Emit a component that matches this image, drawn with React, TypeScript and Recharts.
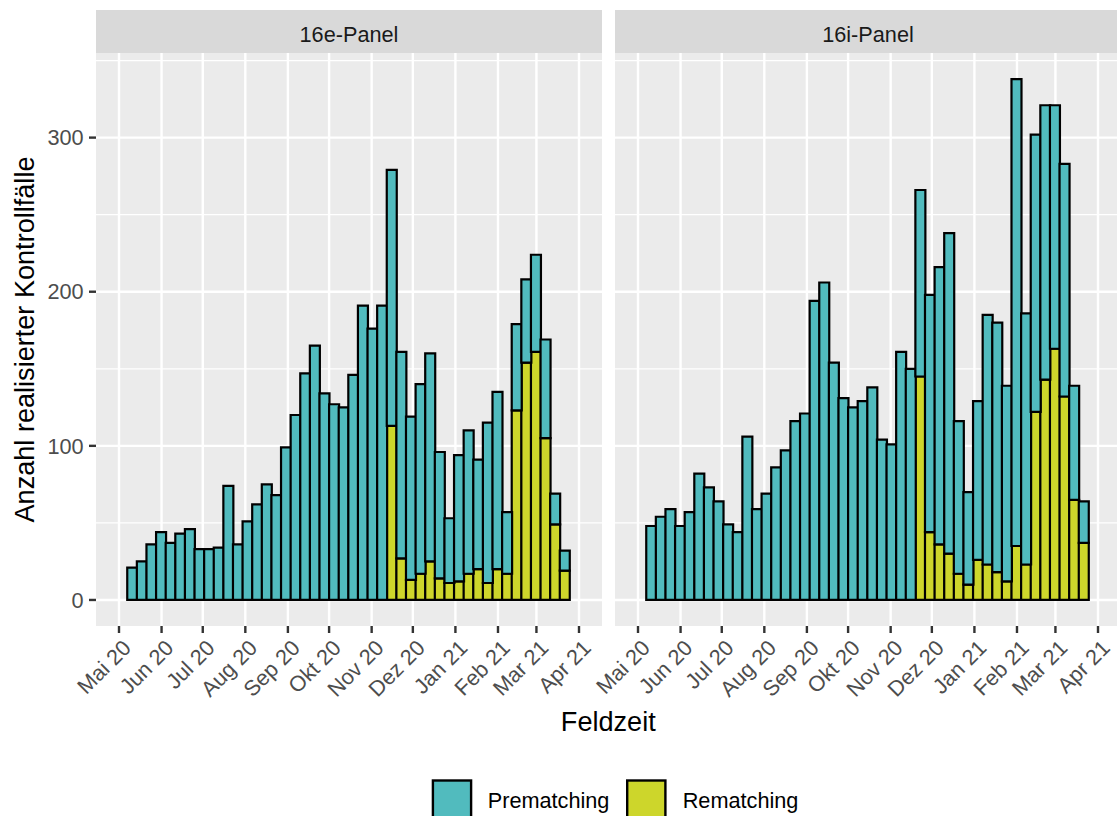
import React from "react";
import { BarChart, Bar, XAxis, YAxis, CartesianGrid } from "recharts";

// week centres (Sundays) of the weekly bins
const weeks = [
  "2020-05-10", "2020-05-17", "2020-05-24", "2020-05-31", "2020-06-07", "2020-06-14", "2020-06-21", "2020-06-28",
  "2020-07-05", "2020-07-12", "2020-07-19", "2020-07-26", "2020-08-02", "2020-08-09", "2020-08-16", "2020-08-23",
  "2020-08-30", "2020-09-06", "2020-09-13", "2020-09-20", "2020-09-27", "2020-10-04", "2020-10-11", "2020-10-18",
  "2020-10-25", "2020-11-01", "2020-11-08", "2020-11-15", "2020-11-22", "2020-11-29", "2020-12-06", "2020-12-13",
  "2020-12-20", "2020-12-27", "2021-01-03", "2021-01-10", "2021-01-17", "2021-01-24", "2021-01-31", "2021-02-07",
  "2021-02-14", "2021-02-21", "2021-02-28", "2021-03-07", "2021-03-14", "2021-03-21",
];

const pre16e = [
  21, 25, 36, 44, 37, 43, 46, 33, 33, 34, 74, 36, 51, 62, 75, 68,
  99, 120, 147, 165, 134, 127, 125, 146, 191, 176, 191, 166, 134, 106, 123, 135,
  82, 42, 82, 93, 71, 104, 115, 40, 56, 54, 63, 64, 20, 13,
];
const re16e = [
  0, 0, 0, 0, 0, 0, 0, 0, 0, 0, 0, 0, 0, 0, 0, 0,
  0, 0, 0, 0, 0, 0, 0, 0, 0, 0, 0, 113, 27, 13, 17, 25,
  14, 11, 12, 17, 20, 11, 20, 17, 123, 154, 161, 105, 49, 19,
];

const pre16i = [
  48, 54, 59, 48, 57, 82, 73, 64, 49, 44, 106, 59, 69, 86, 97, 116,
  121, 194, 206, 154, 131, 125, 129, 138, 104, 101, 161, 150, 121, 154, 180, 208,
  99, 60, 103, 162, 162, 127, 303, 163, 180, 178, 158, 151, 74, 27,
];
const re16i = [
  0, 0, 0, 0, 0, 0, 0, 0, 0, 0, 0, 0, 0, 0, 0, 0,
  0, 0, 0, 0, 0, 0, 0, 0, 0, 0, 0, 0, 145, 44, 36, 30,
  17, 10, 26, 23, 18, 12, 35, 23, 122, 143, 163, 132, 65, 37,
];

const monthDates = [
  "2020-05-01", "2020-06-01", "2020-07-01", "2020-08-01", "2020-09-01", "2020-10-01",
  "2020-11-01", "2020-12-01", "2021-01-01", "2021-02-01", "2021-03-01", "2021-04-01",
];
const monthLabels = [
  "Mai 20", "Jun 20", "Jul 20", "Aug 20", "Sep 20", "Okt 20",
  "Nov 20", "Dez 20", "Jan 21", "Feb 21", "Mar 21", "Apr 21",
];

const yTicks = [0, 100, 200, 300];
const yMinor = [50, 150, 250, 350];
const panelNames = ["16e-Panel", "16i-Panel"];
const seriesNames = ["Prematching", "Rematching"];

const COL_PRE = "#51BBBE";
const COL_RE = "#CDD62B";
const FONT = '"Liberation Sans", Arial, Helvetica, sans-serif';
const SMALL = 21.7;
const BIG = 27.1;

const DAY = 86400000;
const toTs = (d: string) => Date.parse(d + "T00:00:00Z");
const monthTs = monthDates.map(toTs);
const xPad = (monthTs[monthTs.length - 1] - monthTs[0]) * 0.05;
const xDomain = [monthTs[0] - xPad, monthTs[monthTs.length - 1] + xPad];
const yDomain = [-16.9, 354.9];

const rows16e = weeks.map((w, i) => ({ t: toTs(w) + DAY / 2, pre: pre16e[i], re: re16e[i] }));
const rows16i = weeks.map((w, i) => ({ t: toTs(w) + DAY / 2, pre: pre16i[i], re: re16i[i] }));

const CH = 740; // chart height
const PLOT_TOP = 53;
const X_AXIS_H = 114;
const LEFT_W = 96; // room left of each panel

function MonthTick(props: any) {
  const { x, y, payload } = props;
  const idx = monthTs.indexOf(payload.value);
  const label = idx >= 0 ? monthLabels[idx] : "";
  const ax = x + 2;
  const ay = y;
  return (
    <text
      x={ax}
      y={ay}
      transform={`rotate(-45 ${ax} ${ay})`}
      textAnchor="end"
      dominantBaseline="hanging"
      fill="#4D4D4D"
      fontSize={SMALL}
      fontFamily={FONT}
    >
      {label}
    </text>
  );
}

function Panel({ rows, showY }: { rows: any[]; showY: boolean }) {
  return (
    <BarChart
      width={LEFT_W + 506}
      height={CH}
      data={rows}
      margin={{ top: PLOT_TOP, right: 0, bottom: 0, left: showY ? 0 : LEFT_W }}
      barCategoryGap={0}
      barGap={0}
    >
      <CartesianGrid
        fill="#EBEBEB"
        stroke="#FFFFFF"
        strokeWidth={2.4}
        horizontalValues={yTicks}
        verticalValues={monthTs}
      />
      <CartesianGrid stroke="#FFFFFF" strokeWidth={1.2} vertical={false} horizontalValues={yMinor} />
      <XAxis
        dataKey="t"
        type="number"
        domain={xDomain}
        allowDataOverflow
        ticks={monthTs}
        interval={0}
        height={X_AXIS_H}
        axisLine={false}
        tickSize={7}
        tickMargin={5}
        tickLine={{ stroke: "#333333", strokeWidth: 2.4 }}
        tick={<MonthTick />}
      />
      <YAxis
        type="number"
        domain={yDomain}
        allowDataOverflow
        ticks={yTicks}
        interval={0}
        hide={!showY}
        width={LEFT_W}
        axisLine={false}
        tickSize={7}
        tickMargin={5.4}
        tickLine={{ stroke: "#333333", strokeWidth: 2.4 }}
        tick={{ fill: "#4D4D4D", fontSize: SMALL, fontFamily: FONT }}
      />
      <Bar dataKey="re" name={seriesNames[1]} stackId="a" fill={COL_RE} stroke="#000000" strokeWidth={2.2} isAnimationActive={false} />
      <Bar dataKey="pre" name={seriesNames[0]} stackId="a" fill={COL_PRE} stroke="#000000" strokeWidth={2.2} isAnimationActive={false} />
    </BarChart>
  );
}

export default function App() {
  const strips = [
    { x: 96, w: 506 },
    { x: 615, w: 506 },
  ];
  return (
    <div
      style={{
        position: "absolute",
        left: 0,
        top: 0,
        width: 1117,
        height: 816,
        overflow: "hidden",
        background: "#FFFFFF",
        fontFamily: FONT,
      }}
    >
      <div style={{ position: "absolute", left: 0, top: 0 }}>
        <Panel rows={rows16e} showY={true} />
      </div>
      <div style={{ position: "absolute", left: 615 - LEFT_W, top: 0 }}>
        <Panel rows={rows16i} showY={false} />
      </div>
      <svg
        width={1117}
        height={816}
        style={{ position: "absolute", left: 0, top: 0, pointerEvents: "none" }}
        fontFamily={FONT}
      >
        {strips.map((s, i) => (
          <g key={i}>
            <rect x={s.x} y={10} width={s.w} height={43} fill="#D9D9D9" />
            <text x={s.x + s.w / 2} y={41.7} textAnchor="middle" fontSize={SMALL} fill="#1A1A1A">
              {panelNames[i]}
            </text>
          </g>
        ))}
        <text
          x={34}
          y={339.5}
          transform="rotate(-90 34 339.5)"
          textAnchor="middle"
          fontSize={BIG}
          fill="#000000"
        >
          Anzahl realisierter Kontrollfälle
        </text>
        <text x={608.3} y={730.7} textAnchor="middle" fontSize={BIG} fill="#000000">
          Feldzeit
        </text>
        <rect x={432.9} y={780.5} width={38.2} height={40} fill={COL_PRE} stroke="#000000" strokeWidth={2.4} />
        <text x={487.7} y={807.5} fontSize={SMALL} fill="#000000">
          {seriesNames[0]}
        </text>
        <rect x={627.2} y={780.5} width={38.2} height={40} fill={COL_RE} stroke="#000000" strokeWidth={2.4} />
        <text x={682.7} y={807.5} fontSize={SMALL} fill="#000000">
          {seriesNames[1]}
        </text>
      </svg>
    </div>
  );
}
